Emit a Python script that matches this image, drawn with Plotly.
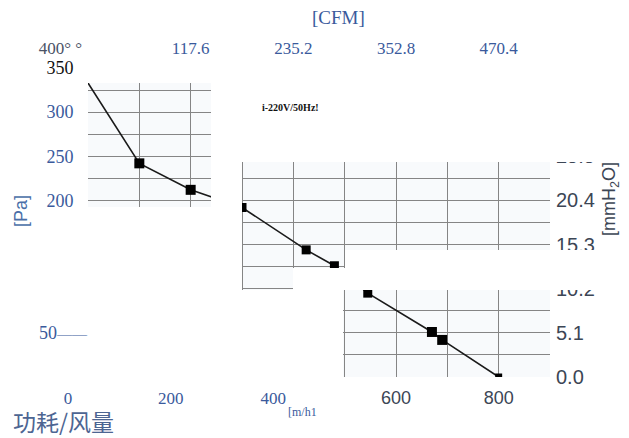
import plotly.graph_objects as go

# ---- data ----
flow_m3h = [0, 100, 200, 300, 425, 480, 545, 670, 690, 800]
pressure_pa = [333, 242, 212, 192, 144, 126, 95, 51, 42, 0]
marker_size = [0, 10, 10, 9, 9, 9, 9, 10, 10, 7]

NB = "\u00a0"
pa_ticks = [50, 200, 250, 300, 350]
pa_labels = ["50<span style='font-size:15px'>——</span>", "200" + NB * 3, "250" + NB * 3,
             "300" + NB * 3, "<span style='color:#111111'>350</span>" + NB * 3]

mm_ticks = [0, 5.1, 10.2, 15.3, 20.4, 25.5]
mm_labels = ["0.0", "5.1", "10.2", "15.3", "20.4", "25.5"]

flow_ticks = [0, 200, 400, 600, 800]
flow_labels = ["0", "200", "400", "600", "800"]

cfm_ticks = [0, 117.6, 235.2, 352.8, 470.4]
cfm_labels = ["<span style='color:#4a5266'>400° °</span>" + NB * 13, "117.6", "235.2", "352.8", "470.4"]

PA_MAX = 350
FLOW_MAX = 900
PA_TO_MM = 1 / 9.80665
M3H_TO_CFM = 0.588

SERIF = "Liberation Serif, Times New Roman, serif"
SANS = "Liberation Sans, Arial, sans-serif"
BLUE = "#3a5a9c"
GRAY = "#3c4655"


def serif_blue(t):
    return f"<span style='font-family:{SERIF};font-size:17px;color:{BLUE}'>{t}</span>" + NB * 8


flow_text = [serif_blue(t) for t in flow_labels[:3]] + flow_labels[3:]

fig = go.Figure()
fig.add_trace(go.Scatter(
    x=flow_m3h, y=pressure_pa, mode="lines+markers",
    line=dict(color="#1a1a1a", width=1.6),
    marker=dict(symbol="square", size=marker_size, color="#000000", opacity=1,
                line=dict(width=0)),
    showlegend=False, hoverinfo="x+y",
))
# invisible traces to activate secondary axes
fig.add_trace(go.Scatter(x=[0], y=[0], yaxis="y2", mode="markers",
                         marker=dict(opacity=0), showlegend=False, hoverinfo="skip"))
fig.add_trace(go.Scatter(x=[0], y=[0], xaxis="x2", mode="markers",
                         marker=dict(opacity=0), showlegend=False, hoverinfo="skip"))

# page body adds an 8px offset; plot area on screen is x 88..550, y 68..377
W, H = 621, 430
L, T = 80, 60
R, B = W - 542, H - 369
PX0, PX1, PY0, PY1 = 88, 550, 68, 377


def px(xs):
    return (xs - PX0) / (PX1 - PX0)


def py(ys):
    return (PY1 - ys) / (PY1 - PY0)


# white masks that reproduce the cut-out look of the picture (screen pixel boxes)
mask_boxes = [
    (88, 550, 60, 83),
    (211, 550, 83, 162),
    (211, 242, 162, 207),
    (88, 242, 207, 290),
    (345, 550, 250, 268),
    (293, 550, 268, 290),
    (88, 343, 290, 380),
    (550, 600, 60, 162),
    (550, 600, 250, 290),
]
shapes = []
for x0, x1, y0, y1 in mask_boxes:
    shapes.append(dict(type="rect", xref="paper", yref="paper", layer="above",
                       x0=px(x0), x1=px(x1), y0=py(y1), y1=py(y0),
                       fillcolor="white", line=dict(width=0)))


def note(text, xs, ys, font, angle=0, xanchor="center", yanchor="middle"):
    return dict(text=text, xref="paper", yref="paper", x=px(xs), y=py(ys),
                xanchor=xanchor, yanchor=yanchor, showarrow=False, textangle=angle,
                font=font)


fig.update_layout(
    width=W, height=H,
    margin=dict(l=L, r=R, t=T, b=B, autoexpand=False),
    paper_bgcolor="white", plot_bgcolor="#f8fafc",
    shapes=shapes,
    xaxis=dict(
        range=[0, FLOW_MAX], tickvals=flow_ticks, ticktext=flow_text,
        tickfont=dict(family=SANS, size=18, color=GRAY),
        showgrid=True, gridcolor="#858585", gridwidth=1.3,
        minor=dict(dtick=100, showgrid=True, gridcolor="#858585", gridwidth=1.3),
        zeroline=False, showline=False, ticks="", ticklabelstandoff=8,
        automargin=False,
    ),
    xaxis2=dict(
        overlaying="x", side="top", range=[0, FLOW_MAX * M3H_TO_CFM],
        tickvals=cfm_ticks, ticktext=cfm_labels,
        tickfont=dict(family=SERIF, size=17, color=BLUE),
        showgrid=False, zeroline=False, showline=False, ticks="", ticklabelstandoff=10,
        automargin=False,
    ),
    yaxis=dict(
        range=[0, PA_MAX], tickvals=pa_ticks, ticktext=pa_labels,
        tickfont=dict(family=SERIF, size=18, color=BLUE),
        showgrid=True, gridcolor="#858585", gridwidth=1.3,
        minor=dict(dtick=25, showgrid=True, gridcolor="#858585", gridwidth=1.3),
        zeroline=False, showline=False, ticks="", ticklabelstandoff=0,
        automargin=False,
    ),
    yaxis2=dict(
        overlaying="y", side="right", range=[0, PA_MAX * PA_TO_MM],
        tickvals=mm_ticks, ticktext=mm_labels,
        tickfont=dict(family=SANS, size=20, color=GRAY),
        showgrid=False, zeroline=False, showline=False, ticks="", ticklabelstandoff=5,
        automargin=False,
    ),
    annotations=[
        note("[CFM]", 338, 17, dict(family=SERIF, size=19, color=BLUE)),
        note("[Pa]", 21, 211, dict(family=SANS, size=18, color="#4a6fa8"), angle=-90),
        note("[mmH<sub>2</sub>O]", 610, 199, dict(family=SANS, size=18, color=GRAY), angle=-90),
        note("[m/h1", 302, 412, dict(family=SERIF, size=12, color=BLUE)),
        note("<b>i-220V/50Hz!</b>", 260, 107, dict(family=SERIF, size=10, color="#111111"),
             xanchor="left"),
        note("功耗/风量", 11, 421, dict(family="Noto Sans CJK SC", size=23, color="#4d6592"),
             xanchor="left"),
    ],
)

fig.write_html("out.html")
